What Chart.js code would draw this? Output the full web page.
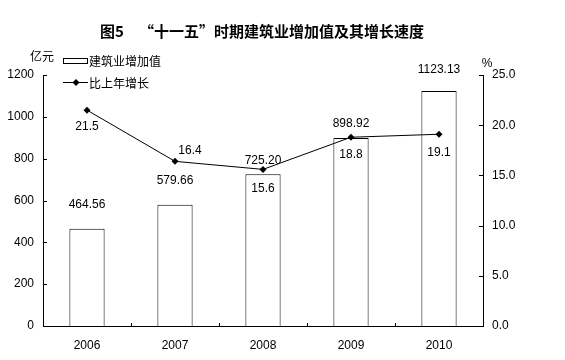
<!DOCTYPE html>
<html>
<head>
<meta charset="utf-8">
<script src="https://cdn.jsdelivr.net/npm/chart.js@4"></script>
<style>
  html, body { margin: 0; padding: 0; background: #fff; }
  #wrap { width: 565px; height: 360px; }
</style>
</head>
<body>
<div id="wrap"><canvas id="grafico"></canvas></div>
<script>
// dados
const anos = ['2006', '2007', '2008', '2009', '2010'];
const valorAdicionado = [464.56, 579.66, 725.20, 898.92, 1123.13];
const rotulosValor = ['464.56', '579.66', '725.20', '898.92', '1123.13'];
const crescimento = [21.5, 16.4, 15.6, 18.8, 19.1];
const rotulosCrescimento = ['21.5', '16.4', '15.6', '18.8', '19.1'];

// deslocamentos dos rótulos (estilo)
const dyBarra = [-24, -24, -14, -14, -21];
const dxLinha = [0, 15, 0, 0, 0];
const dyLinha = [17, -11, 19, 17, 18];

const fonteNum = '12px "Liberation Sans", Arial, sans-serif';
const fonteCJK = '12px "Noto Sans CJK SC", sans-serif';

const extras = {
  id: 'extras',
  afterDraw(chart) {
    const c = chart.ctx;
    const area = chart.chartArea;
    const yL = chart.scales.y;
    const yR = chart.scales.y1;
    const x = chart.scales.x;
    c.save();
    c.fillStyle = '#000';
    c.strokeStyle = '#000';
    c.lineWidth = 1;

    // título
    c.font = 'bold 15px "Noto Sans CJK SC", sans-serif';
    c.textAlign = 'center';
    c.textBaseline = 'middle';
    c.fillText('图5　“十一五”时期建筑业增加值及其增长速度', 262, 31);

    // unidades
    c.font = fonteCJK;
    c.fillText('亿元', 42, 56);
    c.font = fonteNum;
    c.fillText('%', 487, 64);

    // marcas internas dos eixos
    c.beginPath();
    yL.ticks.forEach(t => {
      const py = Math.round(yL.getPixelForValue(t.value)) + 0.5;
      c.moveTo(area.left, py); c.lineTo(area.left + 4, py);
    });
    yR.ticks.forEach(t => {
      const py = Math.round(yR.getPixelForValue(t.value)) + 0.5;
      c.moveTo(area.right, py); c.lineTo(area.right - 4, py);
    });
    for (let i = 1; i < anos.length; i++) {
      const px = Math.round((x.getPixelForValue(i - 1) + x.getPixelForValue(i)) / 2) + 0.5;
      c.moveTo(px, area.bottom); c.lineTo(px, area.bottom - 3);
    }
    c.stroke();

    // legenda
    c.strokeRect(63.5, 58.5, 24, 5);
    c.beginPath();
    c.moveTo(63, 82.5); c.lineTo(88, 82.5);
    c.stroke();
    c.beginPath();
    c.moveTo(76, 79); c.lineTo(79.5, 82.5); c.lineTo(76, 86); c.lineTo(72.5, 82.5);
    c.closePath(); c.fill();
    c.font = fonteCJK;
    c.textAlign = 'left';
    c.fillText('建筑业增加值', 89, 61);
    c.fillText('比上年增长', 89, 83);

    // rótulos de dados
    c.font = fonteNum;
    c.textAlign = 'center';
    const barras = chart.getDatasetMeta(1).data;
    barras.forEach((b, i) => {
      c.fillText(rotulosValor[i], b.x, b.y + dyBarra[i]);
    });
    const pontos = chart.getDatasetMeta(0).data;
    pontos.forEach((p, i) => {
      c.fillText(rotulosCrescimento[i], p.x + dxLinha[i], p.y + dyLinha[i]);
    });
    c.restore();
  }
};

const fonteEixo = { family: '"Liberation Sans", Arial, sans-serif', size: 12 };

const ctx = document.getElementById('grafico').getContext('2d');
new Chart(ctx, {
  data: {
    labels: anos,
    datasets: [{
      type: 'line',
      label: '比上年增长',
      data: crescimento,
      yAxisID: 'y1',
      borderColor: '#000',
      backgroundColor: '#000',
      borderWidth: 1,
      pointStyle: 'rectRot',
      pointRadius: 3.5,
      pointBorderWidth: 0,
      tension: 0,
      order: 0
    }, {
      type: 'bar',
      label: '建筑业增加值',
      data: valorAdicionado,
      yAxisID: 'y',
      backgroundColor: '#fff',
      borderColor: '#000',
      borderWidth: 1,
      categoryPercentage: 1,
      barPercentage: 0.4,
      order: 1
    }]
  },
  options: {
    responsive: true,
    maintainAspectRatio: false,
    animation: false,
    layout: { padding: { top: 75, left: 0, right: 0, bottom: 0 } },
    plugins: { legend: { display: false }, tooltip: { enabled: false }, title: { display: false } },
    scales: {
      x: {
        grid: { display: false, drawTicks: false, tickLength: 0 },
        border: { color: '#000', width: 1 },
        ticks: { color: '#000', font: fonteEixo, padding: 12, maxRotation: 0 },
        afterFit(s) { s.height = 34; }
      },
      y: {
        position: 'left',
        min: 0, max: 1200,
        grid: { display: false, drawTicks: false, tickLength: 0 },
        border: { color: '#000', width: 1 },
        ticks: { stepSize: 200, color: '#000', font: fonteEixo, padding: 9,
          callback: v => String(v) },
        afterFit(s) { s.width = 43; }
      },
      y1: {
        position: 'right',
        min: 0, max: 25,
        grid: { display: false, drawTicks: false, tickLength: 0 },
        border: { color: '#000', width: 1 },
        ticks: { stepSize: 5, color: '#000', font: fonteEixo, padding: 9,
          callback: v => v.toFixed(1) },
        afterFit(s) { s.width = 82; }
      }
    }
  },
  plugins: [extras]
});
</script>
</body>
</html>
